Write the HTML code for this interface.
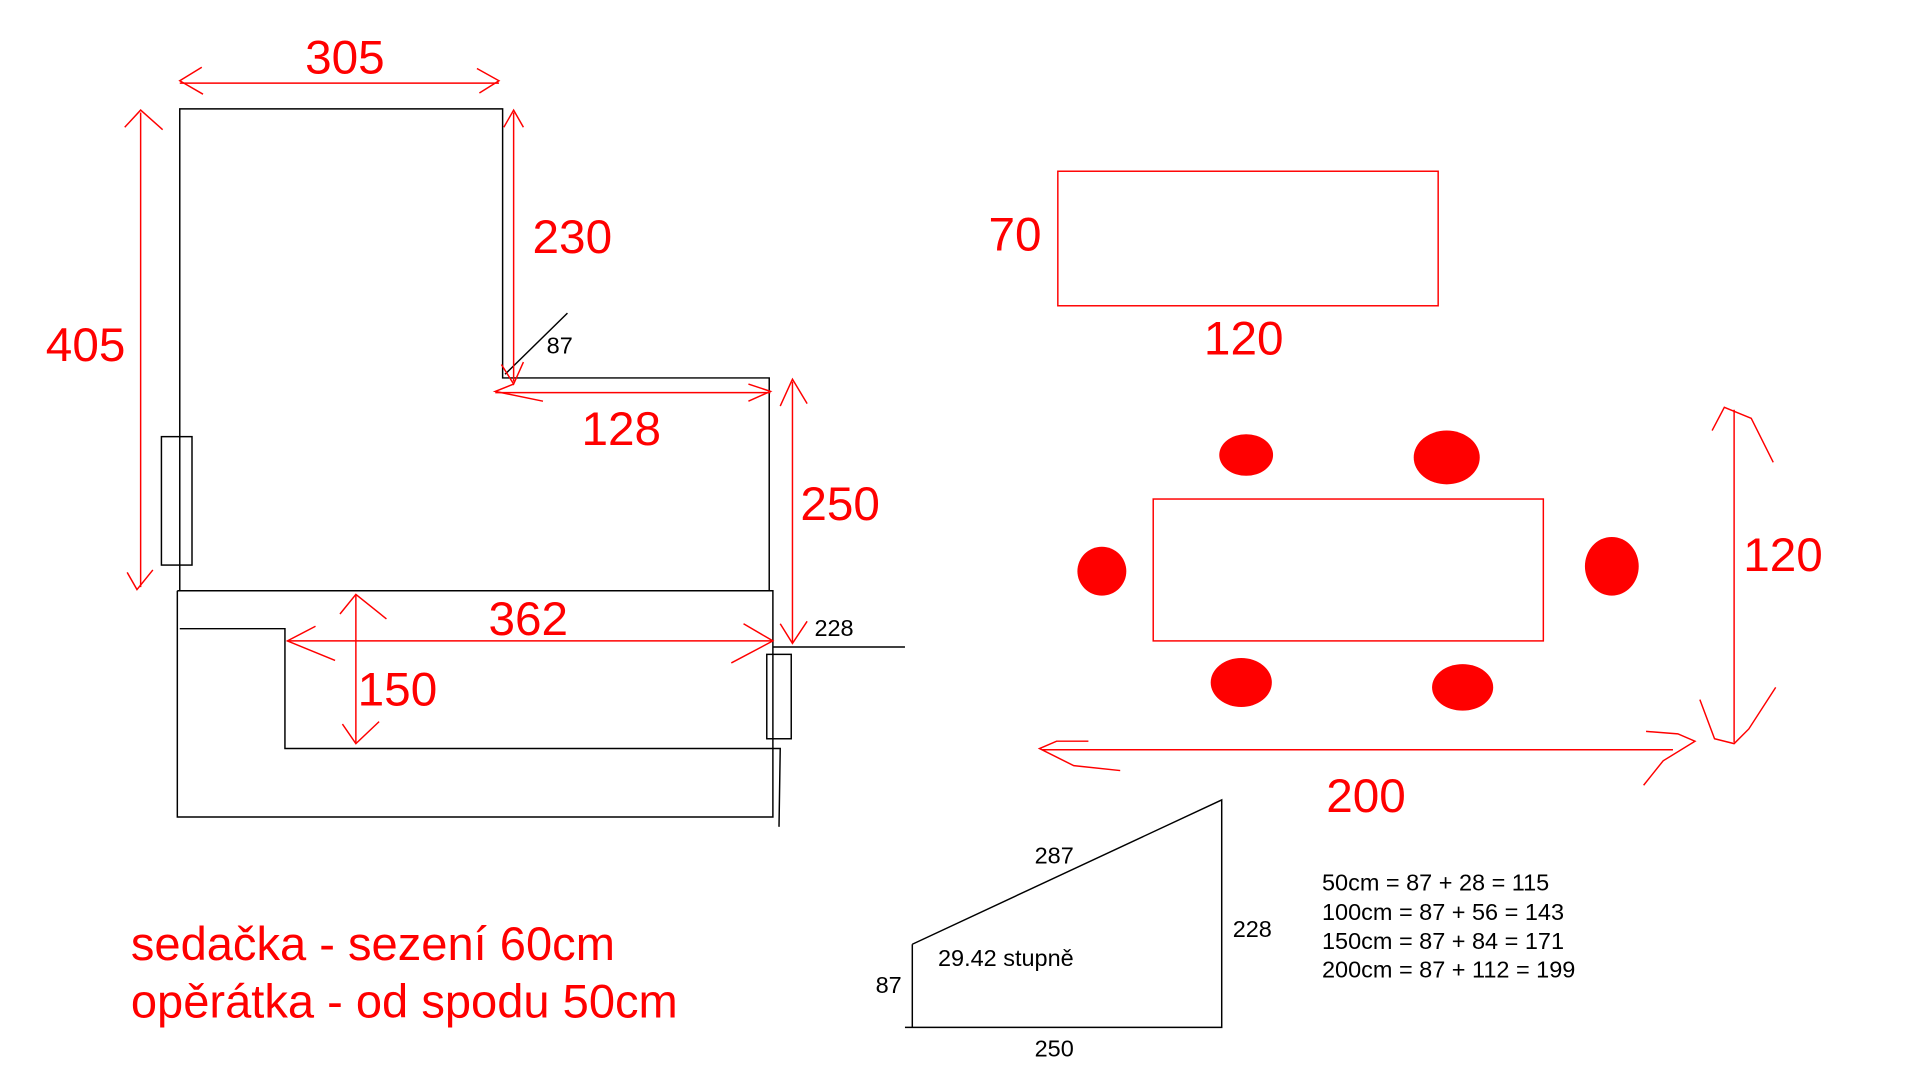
<!DOCTYPE html>
<html><head><meta charset="utf-8"><style>
html,body{margin:0;padding:0;background:#fff;width:1920px;height:1080px;overflow:hidden}
svg{display:block}
text{font-family:"Liberation Sans","Noto Sans CJK SC",sans-serif}
.r{fill:#f00}.k{fill:#000}
</style></head><body>
<svg width="1920" height="1080" viewBox="0 0 1570 883" preserveAspectRatio="none">
<g stroke="#000" stroke-width="1.2" fill="none">
<polyline points="147,483 147,89 411,89 411,309 629,309 629,483"/>
<rect x="132" y="357" width="25" height="105"/>
<polyline points="145,483 632,483 632,668 145,668 145,483"/>
<polyline points="147,514 233,514 233,612 638,612 637,676"/>
<rect x="627" y="535" width="20" height="69"/>
<line x1="632" y1="529" x2="740" y2="529"/>
<line x1="413" y1="306" x2="464" y2="256"/>
<polyline points="746,772 999,654 999,840 740,840"/>
<line x1="746" y1="772" x2="746" y2="840"/>
</g>
<g stroke="#f00" stroke-width="1.2" fill="none">
<line x1="147" y1="68" x2="408" y2="68"/><polyline points="165,55 147,66 166,77"/><polyline points="390,56 408,66 392,76"/>
<line x1="115" y1="92" x2="115" y2="480"/><polyline points="102,104 115,90 133,106"/><polyline points="104,468 112,482 125,466"/>
<line x1="420" y1="92" x2="420" y2="312"/><polyline points="412,104 420,90 428,104"/><polyline points="410,298 420,314 428,296"/>
<line x1="405" y1="321" x2="630" y2="321"/><polyline points="420,314 405,320 444,328"/><polyline points="612,314 630,320 612,328"/>
<line x1="648" y1="312" x2="648" y2="525"/><polyline points="638,332 648,310 660,330"/><polyline points="638,510 648,526 660,508"/>
<line x1="235" y1="524" x2="632" y2="524"/><polyline points="258,512 235,524 274,540"/><polyline points="608,510 632,524 598,542"/>
<line x1="291" y1="486" x2="291" y2="607"/><polyline points="278,502 291,486 316,506"/><polyline points="280,592 291,608 310,590"/>
<rect x="865" y="140" width="311" height="110"/>
<rect x="943" y="408" width="319" height="116"/>
<line x1="1418" y1="335" x2="1418" y2="607"/><polyline points="1400,352 1410,333 1432,342 1450,378"/><polyline points="1390,572 1402,604 1418,608 1430,596 1452,562"/>
<line x1="852" y1="613" x2="1368" y2="613"/><polyline points="890,606 864,606 850,612 878,626 916,630"/><polyline points="1346,598 1372,600 1386,606 1360,622 1344,642"/>
</g>
<g class="r">
<ellipse cx="1019" cy="372" rx="22" ry="17"/><ellipse cx="1183" cy="374" rx="27" ry="22"/>
<ellipse cx="901" cy="467" rx="20" ry="20"/><ellipse cx="1318" cy="463" rx="22" ry="24"/>
<ellipse cx="1015" cy="558" rx="25" ry="20"/><ellipse cx="1196" cy="562" rx="25" ry="19"/>
</g>
<g class="r" font-size="39" text-anchor="middle">
<text x="282" y="60">305</text><text x="70" y="295">405</text><text x="468" y="207">230</text>
<text x="508" y="364">128</text><text x="687" y="425">250</text><text x="432" y="519">362</text>
<text x="325" y="577">150</text><text x="830" y="205">70</text><text x="1017" y="290">120</text>
<text x="1458" y="467">120</text><text x="1117" y="664">200</text>
</g>
<g class="r" font-size="38.5">
<text x="107" y="785">sedačka - sezení 60cm</text><text x="107" y="832">opěrátka - od spodu 50cm</text>
</g>
<g class="k" font-size="19.2">
<text x="447" y="289">87</text><text x="666" y="520">228</text>
<text x="846" y="706">287</text><text x="1008" y="766">228</text><text x="716" y="812">87</text>
<text x="846" y="864">250</text><text x="767" y="790">29.42 stupně</text>
<text x="1081" y="728">50cm = 87 + 28 = 115</text><text x="1081" y="752">100cm = 87 + 56 = 143</text>
<text x="1081" y="776">150cm = 87 + 84 = 171</text><text x="1081" y="799">200cm = 87 + 112 = 199</text>
</g>
</svg>
</body></html>
